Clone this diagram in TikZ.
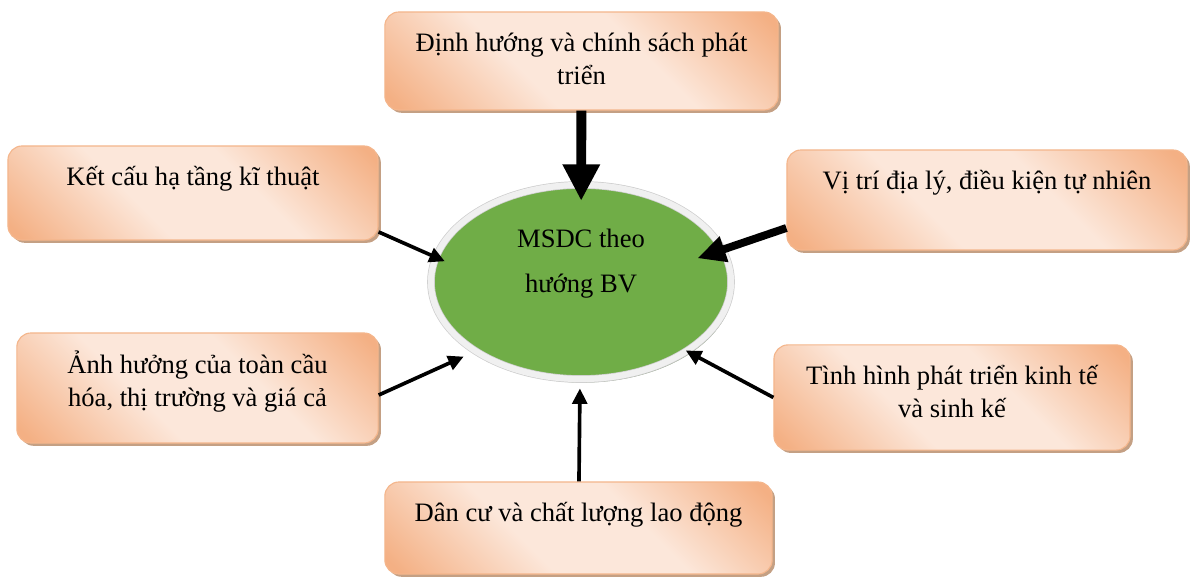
\documentclass[tikz,border=0pt]{standalone}
\usepackage{fontspec}
\setmainfont{Liberation Serif}
\usetikzlibrary{arrows.meta,positioning,shapes.geometric,shadows}
\definecolor{peachdark}{RGB}{244,176,132}
\definecolor{peachlight}{RGB}{252,231,218}
\definecolor{peachline}{RGB}{244,182,140}
\definecolor{peachshadow}{RGB}{196,160,132}
\definecolor{msgreen}{RGB}{112,173,71}
\definecolor{ringgrey}{RGB}{240,240,240}
\definecolor{ringedge}{RGB}{205,205,205}
\definecolor{greenshadow}{RGB}{150,166,140}
\pgfdeclareverticalshading{peachband}{100bp}{color(0bp)=(peachdark); color(17bp)=(peachdark);
  color(40bp)=(peachlight); color(60bp)=(peachlight); color(83bp)=(peachdark); color(100bp)=(peachdark)}
\newcommand{\linestrut}{\rule{0pt}{18pt}}

\tikzset{
  factor/.style={rectangle,rounded corners=10pt,draw=peachline,line width=0.8pt,
    shading=peachband,shading angle=-45,
    drop shadow={shadow xshift=2pt,shadow yshift=-2pt,fill=peachshadow,opacity=1}},
  factortext/.style={inner sep=0pt,align=center,text=black,
    font=\fontsize{18.9}{23.2}\selectfont},
  thinarr/.style={-{Triangle[length=11pt,width=10.5pt]},line width=2.6pt},
  midarr/.style={-{Triangle[length=20pt,width=18pt]},line width=5.6pt},
  bigarr/.style={-{Triangle[length=26pt,width=25pt]},line width=7pt}
}

\begin{document}
\begin{tikzpicture}[x=0.025cm,y=0.025cm]
\useasboundingbox (0,0) rectangle (1190,578);
% the six factor boxes
\node[factor,minimum width=9.83cm,minimum height=2.45cm] (dh) at (581.5,517) {};
\node[factor,minimum width=9.25cm,minimum height=2.35cm] (kc) at (193,385) {};
\node[factor,minimum width=10cm,minimum height=2.5cm] (vt) at (987,378) {};
\node[factor,minimum width=9.03cm,minimum height=2.75cm] (ah) at (197.5,190) {};
\node[factor,minimum width=8.9cm,minimum height=2.63cm] (th) at (952,180.5) {};
\node[factor,minimum width=9.68cm,minimum height=2.3cm] (dc) at (578.5,50) {};
\node[factortext,below=10.4pt of dh.north] (dht) {\linestrut Định hướng và chính sách phát\\triển};
\node[factortext,below=10.4pt of kc.north] (kct) {\linestrut Kết cấu hạ tầng kĩ thuật};
\node[factortext,below=10.4pt of vt.north] (vtt) {\linestrut Vị trí địa lý, điều kiện tự nhiên};
\node[factortext,below=11pt of ah.north] (aht) {\linestrut Ảnh hưởng của toàn cầu\\hóa, thị trường và giá cả};
\node[factortext,below=10.4pt of th.north] (tht) {\linestrut Tình hình phát triển kinh tế\\và sinh kế};
\node[factortext,below=10.4pt of dc.north] (dct) {\linestrut Dân cư và chất lượng lao động};
% centre
\node[ellipse,minimum width=7.5cm,minimum height=4.85cm,fill=msgreen,draw=ringedge,
  double=ringgrey,line width=0.5pt,double distance=4.4pt,outer sep=2.7pt,
  drop shadow={shadow xshift=1.5pt,shadow yshift=-2.5pt,fill=greenshadow,opacity=1}] (ms) at (581,296) {};
\node[factortext,font=\fontsize{18.9}{32}\selectfont,below=29.3pt of ms.north] (mst) {\linestrut MSDC theo\\hướng BV};
% arrows
\draw[bigarr,shorten >=-14pt] (dh) -- (ms);
\draw[midarr,shorten >=-21.5pt] ([yshift=-19.9pt]vt.west) -- (ms.13);
\draw[thinarr,shorten >=-9.6pt] ([yshift=-27.7pt]kc.east) -- (ms.170);
\draw[thinarr,shorten >=6.3pt] ([yshift=-5pt]ah.east) -- (ms.213.6);
\draw[thinarr,shorten >=-3.6pt] (th.west) -- (ms.327);
\draw[thinarr,shorten >=4pt] (dc) -- (ms);
\end{tikzpicture}
\end{document}
